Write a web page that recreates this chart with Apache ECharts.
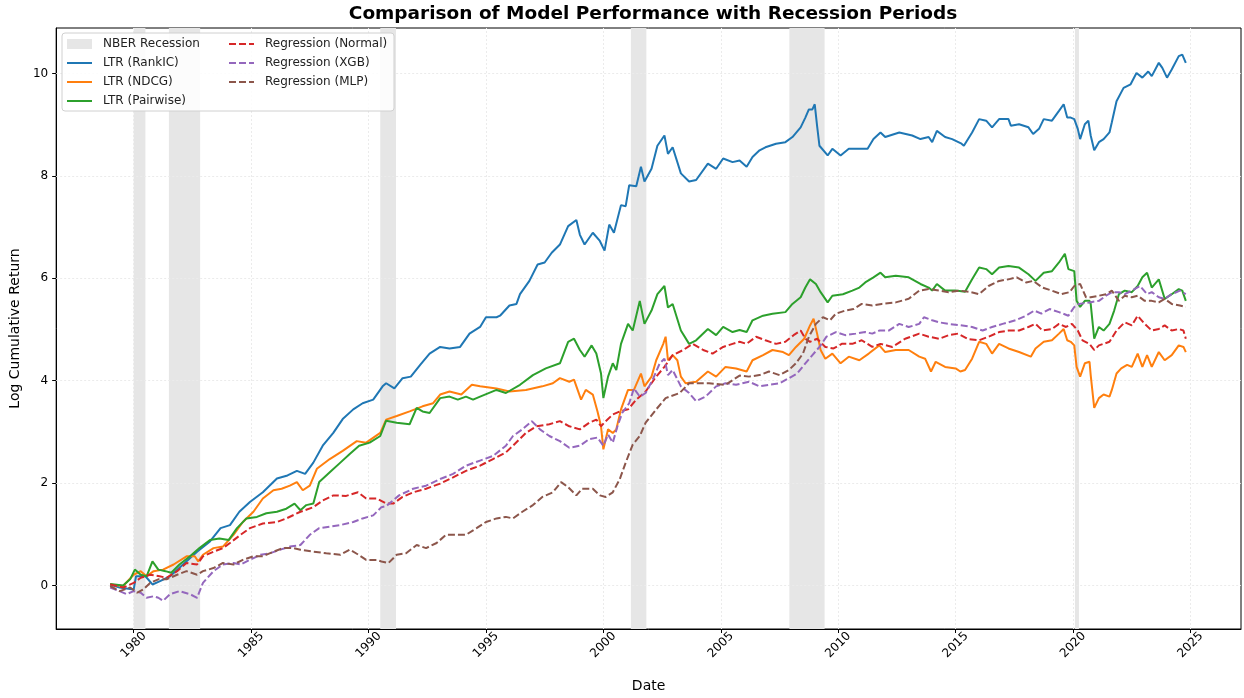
<!DOCTYPE html>
<html>
<head>
<meta charset="utf-8">
<title>Comparison of Model Performance with Recession Periods</title>
<script src="https://cdn.jsdelivr.net/npm/echarts@6.0.0/dist/echarts.min.js"></script>
<style>
  html, body { margin: 0; padding: 0; background: #fff; }
  #main { width: 1244px; height: 698px; }
</style>
</head>
<body>
<div id="main"></div>
<script>
// values, [year, log cumulative return]
const rankic = [[1979.0,0.02],[1979.4,-0.04],[1980.0,-0.08],[1980.1,0.18],[1980.5,0.18],[1980.8,0.02],[1981.1,0.08],[1981.55,0.18],[1982.1,0.41],[1982.7,0.66],[1983.25,0.86],[1983.7,1.12],[1984.1,1.18],[1984.5,1.44],[1984.95,1.63],[1985.5,1.82],[1986.1,2.09],[1986.55,2.15],[1986.95,2.24],[1987.3,2.18],[1987.65,2.4],[1988.05,2.73],[1988.5,2.98],[1988.9,3.25],[1989.35,3.44],[1989.75,3.56],[1990.2,3.63],[1990.6,3.89],[1990.75,3.95],[1991.1,3.85],[1991.45,4.05],[1991.8,4.08],[1992.2,4.31],[1992.6,4.53],[1993.05,4.66],[1993.45,4.63],[1993.9,4.66],[1994.3,4.92],[1994.75,5.05],[1995.0,5.24],[1995.45,5.24],[1995.6,5.27],[1996.0,5.47],[1996.3,5.5],[1996.45,5.69],[1996.85,5.95],[1997.2,6.27],[1997.5,6.31],[1997.8,6.5],[1998.15,6.66],[1998.5,7.02],[1998.85,7.14],[1999.0,6.85],[1999.2,6.66],[1999.55,6.89],[1999.85,6.73],[2000.05,6.54],[2000.25,7.05],[2000.45,6.89],[2000.75,7.43],[2000.95,7.41],[2001.1,7.82],[2001.4,7.8],[2001.6,8.18],[2001.75,7.89],[2002.05,8.14],[2002.3,8.59],[2002.6,8.79],[2002.75,8.43],[2002.95,8.56],[2003.3,8.05],[2003.65,7.89],[2003.95,7.92],[2004.45,8.24],[2004.8,8.14],[2005.1,8.34],[2005.5,8.27],[2005.8,8.3],[2006.1,8.18],[2006.35,8.37],[2006.65,8.5],[2006.9,8.56],[2007.35,8.63],[2007.75,8.66],[2008.05,8.76],[2008.4,8.95],[2008.6,9.14],[2008.75,9.3],[2008.9,9.3],[2009.0,9.4],[2009.1,8.98],[2009.2,8.59],[2009.55,8.4],[2009.75,8.53],[2010.1,8.4],[2010.45,8.53],[2010.9,8.53],[2011.25,8.53],[2011.5,8.72],[2011.8,8.85],[2012.0,8.76],[2012.6,8.85],[2013.15,8.79],[2013.5,8.72],[2013.85,8.76],[2014.0,8.66],[2014.2,8.88],[2014.55,8.76],[2014.85,8.72],[2015.25,8.63],[2015.35,8.59],[2015.7,8.85],[2016.0,9.11],[2016.3,9.08],[2016.55,8.95],[2016.85,9.11],[2017.25,9.11],[2017.35,8.98],[2017.7,9.01],[2018.1,8.95],[2018.3,8.82],[2018.55,8.92],[2018.75,9.11],[2019.1,9.08],[2019.4,9.27],[2019.6,9.4],[2019.75,9.14],[2019.9,9.14],[2020.05,9.11],[2020.2,8.92],[2020.3,8.72],[2020.5,9.01],[2020.65,9.08],[2020.75,8.79],[2020.9,8.5],[2021.1,8.66],[2021.3,8.72],[2021.55,8.85],[2021.65,9.05],[2021.85,9.46],[2022.15,9.72],[2022.45,9.79],[2022.7,10.01],[2022.95,9.92],[2023.2,10.04],[2023.35,9.95],[2023.65,10.21],[2023.8,10.11],[2024.0,9.92],[2024.2,10.08],[2024.5,10.34],[2024.65,10.37],[2024.8,10.21]];

const ndcg = [[1979.0,0.02],[1979.55,-0.01],[1980.0,0.21],[1980.3,0.28],[1980.55,0.18],[1980.85,0.28],[1981.25,0.31],[1981.7,0.41],[1982.25,0.57],[1982.6,0.57],[1982.75,0.47],[1982.95,0.6],[1983.4,0.73],[1983.8,0.76],[1984.25,0.99],[1984.65,1.24],[1985.1,1.44],[1985.5,1.7],[1985.95,1.86],[1986.3,1.89],[1986.65,1.95],[1986.95,2.02],[1987.2,1.86],[1987.5,1.95],[1987.8,2.28],[1988.35,2.47],[1988.9,2.63],[1989.5,2.82],[1989.9,2.79],[1990.5,2.98],[1990.75,3.24],[1991.2,3.31],[1991.75,3.4],[1992.3,3.5],[1992.75,3.56],[1993.05,3.73],[1993.45,3.79],[1993.95,3.73],[1994.4,3.92],[1994.75,3.89],[1995.45,3.85],[1996.0,3.79],[1996.7,3.82],[1997.4,3.89],[1997.85,3.95],[1998.15,4.05],[1998.55,3.98],[1998.75,4.02],[1999.05,3.63],[1999.25,3.82],[1999.55,3.73],[1999.75,3.4],[1999.9,3.11],[2000.0,2.66],[2000.2,3.05],[2000.4,2.98],[2000.55,3.05],[2000.75,3.44],[2001.05,3.82],[2001.3,3.82],[2001.6,4.14],[2001.75,3.89],[2002.05,4.08],[2002.25,4.4],[2002.55,4.72],[2002.65,4.86],[2002.75,4.4],[2002.95,4.5],[2003.15,4.4],[2003.3,4.08],[2003.5,3.95],[2003.95,3.98],[2004.45,4.18],[2004.8,4.08],[2005.2,4.27],[2005.65,4.24],[2006.1,4.18],[2006.35,4.4],[2006.8,4.5],[2007.2,4.6],[2007.65,4.56],[2007.9,4.5],[2008.2,4.66],[2008.55,4.82],[2008.8,5.08],[2008.95,5.21],[2009.1,4.92],[2009.25,4.6],[2009.45,4.43],[2009.75,4.53],[2010.1,4.34],[2010.45,4.47],[2010.9,4.4],[2011.3,4.53],[2011.75,4.69],[2012.0,4.56],[2012.45,4.6],[2013.0,4.6],[2013.45,4.47],[2013.7,4.43],[2013.95,4.18],[2014.15,4.37],[2014.55,4.27],[2015.0,4.24],[2015.2,4.18],[2015.4,4.21],[2015.7,4.43],[2016.0,4.76],[2016.3,4.72],[2016.55,4.53],[2016.85,4.72],[2017.25,4.63],[2017.7,4.56],[2018.2,4.47],[2018.4,4.63],[2018.75,4.76],[2019.1,4.79],[2019.4,4.92],[2019.6,5.01],[2019.75,4.79],[2019.9,4.76],[2020.05,4.69],[2020.15,4.27],[2020.3,4.08],[2020.5,4.34],[2020.7,4.37],[2020.75,4.11],[2020.9,3.47],[2021.1,3.66],[2021.3,3.73],[2021.55,3.69],[2021.65,3.82],[2021.85,4.14],[2022.05,4.24],[2022.3,4.31],[2022.5,4.27],[2022.75,4.53],[2022.95,4.27],[2023.15,4.5],[2023.35,4.27],[2023.65,4.56],[2023.9,4.4],[2024.2,4.5],[2024.5,4.69],[2024.7,4.66],[2024.8,4.56]];

const pairwise = [[1979.0,0.03],[1979.55,0.0],[1979.85,0.12],[1980.05,0.31],[1980.3,0.21],[1980.55,0.18],[1980.8,0.47],[1981.05,0.31],[1981.35,0.28],[1981.6,0.25],[1981.95,0.41],[1982.4,0.57],[1982.8,0.73],[1983.25,0.89],[1983.65,0.92],[1984.05,0.89],[1984.4,1.12],[1984.8,1.31],[1985.25,1.34],[1985.65,1.41],[1986.1,1.44],[1986.5,1.5],[1986.85,1.6],[1987.1,1.47],[1987.35,1.57],[1987.65,1.6],[1987.9,2.02],[1988.35,2.21],[1988.8,2.4],[1989.2,2.57],[1989.6,2.73],[1990.05,2.79],[1990.5,2.92],[1990.75,3.22],[1991.2,3.18],[1991.75,3.15],[1992.05,3.47],[1992.3,3.4],[1992.6,3.37],[1993.05,3.66],[1993.45,3.69],[1993.8,3.63],[1994.15,3.69],[1994.45,3.63],[1994.75,3.69],[1995.45,3.82],[1995.85,3.76],[1996.45,3.92],[1997.0,4.11],[1997.55,4.24],[1998.15,4.34],[1998.5,4.76],[1998.75,4.82],[1999.0,4.6],[1999.2,4.47],[1999.5,4.69],[1999.7,4.53],[1999.9,4.14],[2000.0,3.66],[2000.2,4.08],[2000.4,4.34],[2000.55,4.21],[2000.75,4.72],[2001.05,5.11],[2001.25,4.98],[2001.55,5.56],[2001.75,5.11],[2002.05,5.37],[2002.3,5.69],[2002.6,5.85],[2002.75,5.43],[2002.95,5.5],[2003.3,4.98],[2003.65,4.72],[2003.95,4.79],[2004.45,5.01],[2004.8,4.89],[2005.1,5.05],[2005.5,4.95],[2005.8,4.99],[2006.1,4.95],[2006.35,5.18],[2006.8,5.27],[2007.2,5.31],[2007.75,5.34],[2008.05,5.5],[2008.4,5.63],[2008.6,5.82],[2008.8,5.98],[2009.05,5.89],[2009.25,5.73],[2009.55,5.53],[2009.75,5.66],[2010.2,5.69],[2010.6,5.76],[2010.9,5.82],[2011.15,5.92],[2011.5,6.02],[2011.8,6.11],[2012.0,6.02],[2012.45,6.05],[2013.0,6.02],[2013.5,5.89],[2013.85,5.82],[2014.0,5.76],[2014.2,5.89],[2014.55,5.76],[2015.0,5.76],[2015.4,5.74],[2015.7,5.98],[2016.0,6.21],[2016.3,6.18],[2016.55,6.08],[2016.85,6.21],[2017.25,6.24],[2017.7,6.21],[2018.1,6.08],[2018.4,5.95],[2018.75,6.11],[2019.1,6.14],[2019.4,6.31],[2019.65,6.48],[2019.8,6.18],[2020.05,6.14],[2020.15,5.56],[2020.3,5.44],[2020.5,5.56],[2020.7,5.56],[2020.75,5.5],[2020.9,4.82],[2021.1,5.05],[2021.3,4.98],[2021.55,5.11],[2021.75,5.37],[2021.95,5.69],[2022.2,5.76],[2022.5,5.73],[2022.75,5.85],[2022.95,6.02],[2023.15,6.11],[2023.35,5.82],[2023.65,5.98],[2023.9,5.6],[2024.2,5.69],[2024.5,5.79],[2024.65,5.76],[2024.8,5.56]];

const regNormal = [[1979.0,0.02],[1979.55,-0.04],[1980.0,0.05],[1980.3,0.15],[1980.7,0.21],[1981.1,0.18],[1981.4,0.15],[1981.85,0.28],[1982.25,0.44],[1982.7,0.41],[1982.95,0.57],[1983.4,0.66],[1983.8,0.73],[1984.1,0.83],[1984.55,0.99],[1984.95,1.12],[1985.5,1.21],[1986.1,1.24],[1986.5,1.31],[1987.1,1.44],[1987.65,1.53],[1988.05,1.66],[1988.5,1.76],[1989.05,1.75],[1989.55,1.82],[1989.9,1.7],[1990.35,1.7],[1990.75,1.6],[1991.05,1.6],[1991.45,1.73],[1991.9,1.82],[1992.45,1.89],[1993.05,1.99],[1993.6,2.11],[1994.15,2.24],[1994.75,2.34],[1995.3,2.47],[1995.85,2.6],[1996.15,2.73],[1996.7,2.98],[1997.15,3.11],[1997.7,3.15],[1998.15,3.21],[1998.55,3.11],[1999.0,3.05],[1999.4,3.18],[1999.7,3.24],[1999.9,3.11],[2000.1,3.21],[2000.4,3.34],[2000.7,3.4],[2001.05,3.44],[2001.4,3.63],[2001.8,3.79],[2002.25,4.08],[2002.6,4.27],[2002.95,4.5],[2003.4,4.6],[2003.8,4.72],[2004.25,4.6],[2004.65,4.53],[2005.1,4.66],[2005.5,4.72],[2005.8,4.76],[2006.1,4.72],[2006.5,4.86],[2006.9,4.79],[2007.35,4.72],[2007.75,4.76],[2008.1,4.89],[2008.4,4.98],[2008.6,4.82],[2008.8,4.76],[2009.1,4.82],[2009.45,4.66],[2009.8,4.63],[2010.15,4.72],[2010.6,4.72],[2011.0,4.79],[2011.45,4.66],[2011.8,4.72],[2012.3,4.66],[2012.85,4.82],[2013.45,4.92],[2013.85,4.86],[2014.3,4.82],[2014.7,4.89],[2015.1,4.92],[2015.55,4.81],[2016.0,4.79],[2016.4,4.86],[2016.85,4.95],[2017.25,4.98],[2017.7,4.98],[2018.1,5.05],[2018.4,5.11],[2018.7,4.98],[2019.1,5.01],[2019.4,5.11],[2019.7,5.05],[2019.95,5.11],[2020.2,4.98],[2020.4,4.79],[2020.7,4.72],[2020.9,4.6],[2021.1,4.69],[2021.55,4.76],[2021.85,4.98],[2022.2,5.14],[2022.5,5.08],[2022.75,5.27],[2023.05,5.11],[2023.35,4.98],[2023.65,5.01],[2023.9,5.08],[2024.2,4.98],[2024.5,5.01],[2024.7,4.98],[2024.8,4.82]];

const regXgb = [[1979.0,-0.04],[1979.4,-0.11],[1979.7,-0.17],[1980.0,-0.11],[1980.3,-0.14],[1980.55,-0.24],[1980.85,-0.21],[1981.05,-0.24],[1981.25,-0.3],[1981.55,-0.17],[1981.95,-0.11],[1982.4,-0.17],[1982.7,-0.24],[1982.95,0.05],[1983.4,0.28],[1983.8,0.41],[1984.25,0.44],[1984.55,0.41],[1984.95,0.5],[1985.4,0.6],[1985.8,0.63],[1986.25,0.7],[1986.65,0.76],[1987.1,0.79],[1987.5,0.99],[1987.9,1.12],[1988.35,1.15],[1988.8,1.18],[1989.35,1.24],[1989.75,1.31],[1990.2,1.37],[1990.55,1.53],[1990.75,1.55],[1991.3,1.76],[1991.9,1.89],[1992.45,1.95],[1993.05,2.08],[1993.6,2.18],[1994.15,2.34],[1994.75,2.44],[1995.3,2.53],[1995.85,2.73],[1996.15,2.92],[1996.55,3.05],[1996.95,3.21],[1997.3,3.05],[1997.7,2.92],[1998.15,2.82],[1998.55,2.69],[1999.0,2.73],[1999.4,2.86],[1999.75,2.89],[2000.0,2.73],[2000.2,2.95],[2000.4,2.79],[2000.6,3.11],[2000.8,3.37],[2001.1,3.56],[2001.3,3.85],[2001.55,3.69],[2001.8,3.76],[2002.1,4.02],[2002.4,4.34],[2002.6,4.43],[2002.75,4.11],[2002.95,4.21],[2003.3,3.89],[2003.65,3.76],[2003.95,3.6],[2004.35,3.69],[2004.8,3.89],[2005.2,3.95],[2005.65,3.92],[2006.2,3.98],[2006.65,3.89],[2007.05,3.92],[2007.5,3.95],[2007.9,4.05],[2008.25,4.14],[2008.6,4.34],[2008.9,4.5],[2009.2,4.66],[2009.5,4.86],[2009.9,4.95],[2010.3,4.89],[2010.75,4.92],[2011.15,4.95],[2011.45,4.92],[2011.75,4.98],[2012.15,4.98],[2012.6,5.11],[2013.0,5.05],[2013.45,5.11],[2013.65,5.24],[2014.0,5.18],[2014.3,5.14],[2014.7,5.11],[2015.1,5.09],[2015.7,5.05],[2016.15,4.98],[2016.55,5.05],[2017.0,5.11],[2017.55,5.18],[2018.0,5.27],[2018.35,5.37],[2018.65,5.31],[2019.0,5.4],[2019.4,5.34],[2019.8,5.27],[2020.05,5.44],[2020.25,5.5],[2020.7,5.53],[2021.1,5.56],[2021.4,5.66],[2021.65,5.73],[2021.95,5.73],[2022.2,5.69],[2022.5,5.76],[2022.85,5.85],[2023.15,5.69],[2023.35,5.73],[2023.65,5.63],[2023.9,5.6],[2024.2,5.69],[2024.55,5.76],[2024.8,5.69]];

const regMlp = [[1979.0,-0.01],[1979.4,-0.11],[1979.85,-0.04],[1980.15,-0.14],[1980.4,-0.08],[1980.7,0.05],[1981.05,0.12],[1981.4,0.12],[1981.85,0.21],[1982.25,0.28],[1982.7,0.21],[1982.95,0.28],[1983.4,0.34],[1983.8,0.44],[1984.25,0.41],[1984.65,0.5],[1985.1,0.57],[1985.5,0.57],[1985.95,0.66],[1986.35,0.73],[1986.8,0.73],[1987.1,0.7],[1987.65,0.66],[1988.2,0.63],[1988.8,0.6],[1989.2,0.7],[1989.5,0.62],[1989.9,0.5],[1990.35,0.5],[1990.55,0.47],[1990.85,0.44],[1991.2,0.6],[1991.6,0.63],[1992.05,0.79],[1992.45,0.73],[1992.9,0.83],[1993.3,0.99],[1993.75,0.99],[1994.15,0.99],[1994.6,1.12],[1995.0,1.24],[1995.45,1.31],[1995.85,1.34],[1996.15,1.31],[1996.55,1.44],[1997.0,1.57],[1997.4,1.73],[1997.85,1.82],[1998.2,2.02],[1998.5,1.92],[1998.85,1.76],[1999.1,1.89],[1999.55,1.89],[1999.85,1.76],[2000.1,1.73],[2000.4,1.82],[2000.7,2.08],[2000.95,2.4],[2001.25,2.75],[2001.55,2.92],[2001.8,3.18],[2002.25,3.44],[2002.65,3.66],[2003.25,3.76],[2003.65,3.95],[2004.5,3.95],[2005.2,3.92],[2005.8,4.1],[2006.2,4.08],[2006.65,4.11],[2007.05,4.18],[2007.5,4.11],[2007.9,4.21],[2008.2,4.34],[2008.5,4.53],[2008.75,4.86],[2009.05,5.11],[2009.35,5.24],[2009.65,5.18],[2009.9,5.31],[2010.3,5.37],[2010.65,5.4],[2011.0,5.5],[2011.45,5.47],[2011.85,5.5],[2012.45,5.53],[2013.0,5.6],[2013.45,5.76],[2013.85,5.79],[2014.3,5.76],[2014.7,5.73],[2015.15,5.76],[2015.55,5.74],[2016.0,5.69],[2016.4,5.85],[2016.85,5.95],[2017.25,5.98],[2017.6,6.02],[2018.0,5.92],[2018.3,5.95],[2018.7,5.82],[2019.1,5.76],[2019.5,5.69],[2019.85,5.73],[2020.05,5.85],[2020.3,5.89],[2020.55,5.63],[2020.75,5.63],[2021.1,5.66],[2021.4,5.69],[2021.65,5.76],[2021.95,5.56],[2022.2,5.66],[2022.5,5.63],[2022.75,5.66],[2023.05,5.56],[2023.35,5.56],[2023.65,5.53],[2023.9,5.6],[2024.2,5.5],[2024.55,5.47],[2024.8,5.44]];

// NBER recession periods (decimal years)
const recessionStart = [1980.0, 1981.5, 1990.5, 2001.17, 2007.92, 2020.08];
const recessionEnd = [1980.5, 1982.83, 1991.17, 2001.83, 2009.42, 2020.25];

// tick labels
const yearTicks = [1980, 1985, 1990, 1995, 2000, 2005, 2010, 2015, 2020, 2025];
const valueTicks = [0, 2, 4, 6, 8, 10];

const FONT = 'DejaVu Sans';
const chart = echarts.init(document.getElementById('main'));

function lineSeries(name, data, color, dashed) {
  return {
    name: name,
    type: 'line',
    data: data,
    symbol: 'none',
    color: color,
    lineStyle: { width: 2, color: color, type: dashed ? [7, 3] : 'solid' },
    emphasis: { disabled: true },
    z: 3
  };
}

// hide the marker dot that echarts puts in the middle of line legend icons
function lineItem(name) {
  return { name: name, itemStyle: { opacity: 0 } };
}

const bands = recessionStart.map((s, i) => [{ xAxis: s }, { xAxis: recessionEnd[i] }]);
const gridLines = yearTicks.map(v => ({ xAxis: v })).concat(valueTicks.map(v => ({ yAxis: v })));

const legendBase = {
  top: 38, orient: 'vertical', padding: 0,
  itemWidth: 25, itemHeight: 10, itemGap: 7,
  lineStyle: { width: 2 },
  textStyle: { fontFamily: FONT, fontSize: 12, color: '#222', padding: [0, 0, 0, 6] }
};

chart.setOption({
  animation: false,
  backgroundColor: '#fff',
  textStyle: { fontFamily: FONT },
  title: {
    text: 'Comparison of Model Performance with Recession Periods',
    left: 648,
    top: 0,
    textAlign: 'center',
    textStyle: { fontFamily: FONT, fontSize: 18.5, fontWeight: 'bold', color: '#000' }
  },
  graphic: [{
    type: 'rect',
    z: 3,
    shape: { x: 62, y: 33, width: 332, height: 78, r: 3 },
    style: { fill: 'rgba(255,255,255,0.85)', stroke: '#d0d0d0', lineWidth: 1 }
  }],
  legend: [
    Object.assign({}, legendBase, {
      left: 66,
      data: [{ name: 'NBER Recession', icon: 'rect' }, lineItem('LTR (RankIC)'), lineItem('LTR (NDCG)'), lineItem('LTR (Pairwise)')]
    }),
    Object.assign({}, legendBase, {
      left: 228,
      data: [lineItem('Regression (Normal)'), lineItem('Regression (XGB)'), lineItem('Regression (MLP)')]
    })
  ],
  grid: {
    left: 56, right: 3, top: 28, bottom: 63,
    show: true, borderColor: '#000', borderWidth: 1
  },
  xAxis: {
    type: 'value',
    min: 1976.7,
    max: 2027.15,
    name: 'Date',
    nameLocation: 'middle',
    nameGap: 50,
    nameTextStyle: { fontFamily: FONT, fontSize: 14, color: '#000' },
    axisLine: { show: true, onZero: false, lineStyle: { color: '#000' } },
    axisTick: { show: true, length: 4, customValues: yearTicks, lineStyle: { color: '#000' } },
    axisLabel: {
      customValues: yearTicks, rotate: 45, align: 'center', verticalAlign: 'middle',
      margin: 16, fontFamily: FONT, fontSize: 12, color: '#000',
      formatter: v => String(Math.round(v))
    },
    splitLine: { show: false }
  },
  yAxis: {
    type: 'value',
    min: -0.85,
    max: 10.89,
    name: 'Log Cumulative Return',
    nameLocation: 'middle',
    nameGap: 34,
    nameTextStyle: { fontFamily: FONT, fontSize: 14, color: '#000' },
    axisLine: { show: true, lineStyle: { color: '#000' } },
    axisTick: { show: true, length: 4, customValues: valueTicks, lineStyle: { color: '#000' } },
    axisLabel: {
      customValues: valueTicks, margin: 8, fontFamily: FONT, fontSize: 12, color: '#000',
      formatter: v => String(Math.round(v))
    },
    splitLine: { show: false }
  },
  series: [
    {
      name: 'NBER Recession',
      type: 'line',
      data: [],
      color: '#e6e6e6',
      itemStyle: { color: '#e6e6e6' },
      markArea: {
        silent: true,
        z: 1,
        itemStyle: { color: '#e6e6e6' },
        data: bands
      },
      markLine: {
        silent: true,
        z: 1,
        symbol: 'none',
        label: { show: false },
        lineStyle: { color: '#ebebeb', type: [2, 2], width: 1 },
        data: gridLines
      }
    },
    lineSeries('LTR (RankIC)', rankic, '#1f77b4', false),
    lineSeries('LTR (NDCG)', ndcg, '#ff7f0e', false),
    lineSeries('LTR (Pairwise)', pairwise, '#2ca02c', false),
    lineSeries('Regression (Normal)', regNormal, '#d62728', true),
    lineSeries('Regression (XGB)', regXgb, '#9467bd', true),
    lineSeries('Regression (MLP)', regMlp, '#8c564b', true)
  ]
});
</script>
</body>
</html>
